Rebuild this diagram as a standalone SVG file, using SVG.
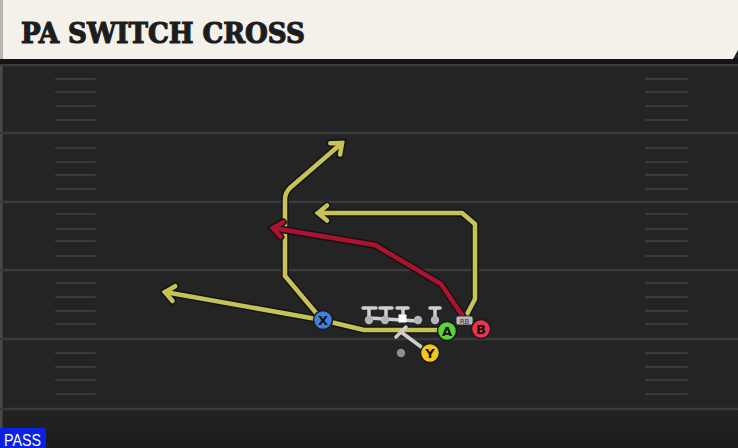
<svg xmlns="http://www.w3.org/2000/svg" width="738" height="448" viewBox="0 0 738 448">
<defs>
<style>
.yl{stroke:#3a3a3a;stroke-width:2.5;fill:none}
.hm{stroke:#3b3b3b;stroke-width:2;stroke-linecap:round;fill:none}
.out{stroke:#141414;stroke-width:7.5;fill:none;stroke-linejoin:round;stroke-linecap:round}
.yel{stroke:#c6c258;stroke-width:4.5;fill:none;stroke-linejoin:round;stroke-linecap:round}
.red{stroke:#ad1230;stroke-width:4.5;fill:none;stroke-linejoin:round;stroke-linecap:round}
.blk{stroke:#cfcfcf;stroke-width:3.5;fill:none;stroke-linecap:round}
.dot{fill:#b5b5b5}
.pc{stroke:#1a1a1a;stroke-width:1.5}
.pt{font-family:"DejaVu Sans",sans-serif;font-weight:bold;font-size:13px;fill:#111;text-anchor:middle}
</style>
<marker id="ao" markerUnits="userSpaceOnUse" markerWidth="30" markerHeight="30" refX="0" refY="0" viewBox="-15 -15 30 30" orient="auto" overflow="visible"><path d="M-9,-7.5 L0,0 L-9,7.5" stroke="#141414" stroke-width="7.5" fill="none" stroke-linejoin="miter" stroke-linecap="round"/></marker>
<marker id="ay" markerUnits="userSpaceOnUse" markerWidth="30" markerHeight="30" refX="0" refY="0" viewBox="-15 -15 30 30" orient="auto" overflow="visible"><path d="M-9,-7.5 L0,0 L-9,7.5" stroke="#c6c258" stroke-width="4.5" fill="none" stroke-linejoin="miter" stroke-linecap="round"/></marker>
<marker id="ar" markerUnits="userSpaceOnUse" markerWidth="30" markerHeight="30" refX="0" refY="0" viewBox="-15 -15 30 30" orient="auto" overflow="visible"><path d="M-9,-7.5 L0,0 L-9,7.5" stroke="#ad1230" stroke-width="4.5" fill="none" stroke-linejoin="miter" stroke-linecap="round"/></marker>
<linearGradient id="bot" x1="0" y1="0" x2="0" y2="1"><stop offset="0" stop-color="#232323"/><stop offset="1" stop-color="#1c1c1c"/></linearGradient>
</defs>
<g id="field">
<rect x="0" y="0" width="738" height="448" fill="#242424"/>
<rect x="0" y="409" width="738" height="39" fill="url(#bot)"/>
<rect x="0" y="60" width="2.5" height="388" fill="#4a4a4a"/>
<line class="yl" x1="0" y1="65" x2="738" y2="65"/>
<line class="yl" x1="0" y1="133" x2="738" y2="133"/>
<line class="yl" x1="0" y1="202" x2="738" y2="202"/>
<line class="yl" x1="0" y1="270" x2="738" y2="270"/>
<line class="yl" x1="0" y1="339" x2="738" y2="339"/>
<line class="yl" x1="0" y1="409" x2="738" y2="409"/>
<path class="hm" d="M56 79H95M56 92H95M56 106H95M56 120H95M56 148H95M56 162H95M56 175H95M56 189H95M56 214H95M56 229H95M56 241H95M56 256H95M56 283H95M56 297H95M56 311H95M56 324H95M56 353H95M56 367H95M56 380H95M56 394H95"/>
<path class="hm" d="M646 79H687M646 92H687M646 106H687M646 120H687M646 148H687M646 162H687M646 175H687M646 189H687M646 214H687M646 229H687M646 241H687M646 256H687M646 283H687M646 297H687M646 311H687M646 324H687M646 353H687M646 367H687M646 380H687M646 394H687"/>
</g>
<g id="header">
<rect x="0" y="58" width="738" height="6" fill="#141414"/>
<polygon points="0,0 738,0 738,50 733,59 0,59" fill="#f4f1ea"/>
<rect x="0" y="0" width="3" height="59" fill="#b5b5b2"/>
<text x="21" y="43" font-family="'DejaVu Serif',serif" font-weight="bold" font-size="28" textLength="284" lengthAdjust="spacingAndGlyphs" fill="#1d1d1d" stroke="#1d1d1d" stroke-width="1.2">PA SWITCH CROSS</text>
</g>
<g id="connectors">
<path class="out" d="M322,320 L285,276 L285,200 Q285,192 291,187 L342,143" marker-end="url(#ao)"/>
<path class="yel" d="M322,320 L285,276 L285,200 Q285,192 291,187 L342,143" marker-end="url(#ay)"/>
<path class="out" d="M447,330 L364,330 L322,320 L165,292" marker-end="url(#ao)"/>
<path class="yel" d="M447,330 L364,330 L322,320 L165,292" marker-end="url(#ay)"/>
<path class="out" d="M464,320 L475,299 L475,224 L462,213 L318,213" marker-end="url(#ao)"/>
<path class="yel" d="M464,320 L475,299 L475,224 L462,213 L318,213" marker-end="url(#ay)"/>
<path class="out" d="M464,318 L441,284 L375,245 L273,228" marker-end="url(#ao)"/>
<path class="red" d="M464,318 L441,284 L375,245 L273,228" marker-end="url(#ar)"/>
<path class="blk" d="M369,318 L418,321"/>
<path class="blk" d="M363,308H376M369,308V319M380,308H392M386,308V319M397,308H408M403,308V318M430,308H440M435,308V319"/>
<path class="blk" d="M428,352 L401,332 M396,337 L406,327"/>
</g>
<g id="linemen">
<circle class="dot" cx="369" cy="320" r="4.2"/>
<circle class="dot" cx="385" cy="320" r="4.2"/>
<rect x="398.5" y="314.5" width="8" height="8" fill="#ffffff"/>
<circle class="dot" cx="418" cy="320" r="4.2"/>
<circle class="dot" cx="435" cy="320" r="4.2"/>
<circle cx="401" cy="353" r="4.2" fill="#8e8e8e"/>
</g>
<g id="rb">
<rect x="456" y="316" width="17" height="9" rx="2" fill="#b9b9b9" stroke="#1a1a1a" stroke-width="0.8"/>
<text x="464.5" y="323.5" font-family="'DejaVu Sans',sans-serif" font-size="7" text-anchor="middle" fill="#333">RB</text>
</g>
<g id="X">
<circle class="pc" cx="323" cy="320" r="9.5" fill="#3f7fe0"/>
<text class="pt" x="323" y="324.5">X</text>
</g>
<g id="A">
<circle class="pc" cx="447" cy="331" r="9.5" fill="#5fd23a"/>
<text class="pt" x="447" y="335.5">A</text>
</g>
<g id="B">
<circle class="pc" cx="481" cy="329" r="9.5" fill="#e8344a"/>
<text class="pt" x="481" y="333.5">B</text>
</g>
<g id="Y">
<circle class="pc" cx="430" cy="353" r="9.5" fill="#f3c422"/>
<text class="pt" x="430" y="357.5">Y</text>
</g>
<g id="pass">
<rect x="0" y="428" width="46" height="20" fill="#0a22e6"/>
<text x="4" y="445.5" font-family="'Liberation Sans',sans-serif" font-size="16" textLength="37" lengthAdjust="spacingAndGlyphs" fill="#ffffff">PASS</text>
</g>
</svg>
